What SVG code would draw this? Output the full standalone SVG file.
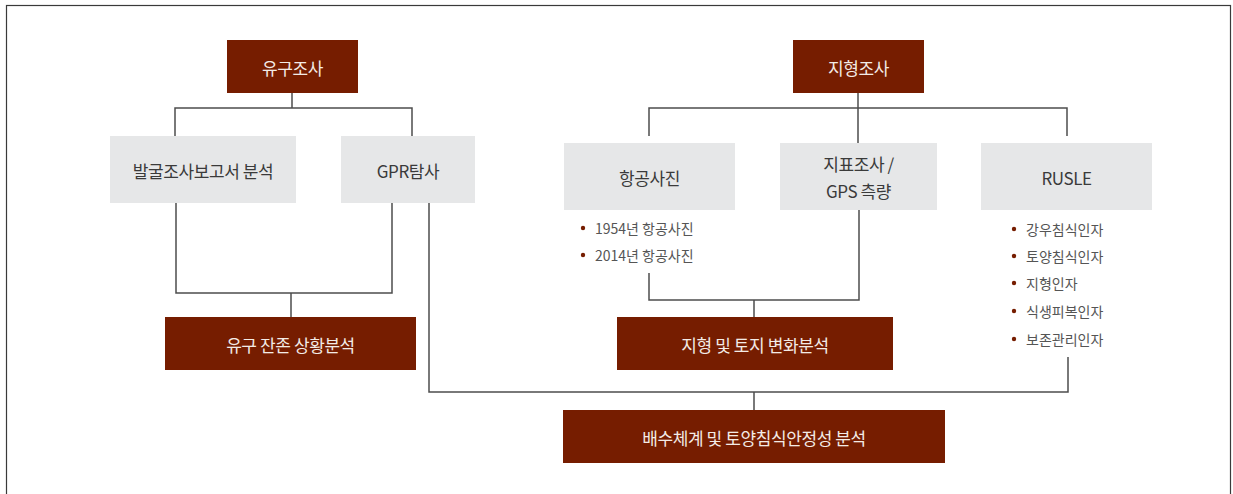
<svg xmlns="http://www.w3.org/2000/svg" width="1233" height="494" viewBox="0 0 1233 494">
<style>
.frame{fill:none;stroke:#3a3a3a;stroke-width:1.2}
.dark{fill:#761d00}
.light{fill:#e6e7e8}
.tl{font-family:"Noto Sans CJK KR","Noto Sans",sans-serif;font-size:17px;fill:#f3ebe6;text-anchor:middle;dominant-baseline:central;letter-spacing:-0.4px}
.tg{font-family:"Noto Sans CJK KR","Noto Sans",sans-serif;font-size:17px;fill:#3a3a3a;text-anchor:middle;dominant-baseline:central;letter-spacing:-0.4px}
.tb{font-family:"Noto Sans CJK KR","Noto Sans",sans-serif;font-size:14px;fill:#555;dominant-baseline:central}
.bul{fill:#761d00}
.conn path{fill:none;stroke:#4d4d4d;stroke-width:1.5}
</style>
<rect class="frame" x="6.5" y="5.5" width="1224" height="500"/>
<g class="conn">
<path d="M292 93V108M175 136V108H412V136"/>
<path d="M176 203V293H392V203M291 293V317"/>
<path d="M858 93V143M649 136V108H1067V136"/>
<path d="M649 273V300H859V210M754 300V317"/>
<path d="M429 203V392H1068V357M754 392V410"/>
</g>
<g id="n1"><rect class="dark" x="227" y="40" width="131" height="53"/><text class="tl" x="292.5" y="67">유구조사</text></g>
<g id="n2"><rect class="dark" x="793" y="40" width="131" height="53"/><text class="tl" x="858.5" y="67">지형조사</text></g>
<g id="n3"><rect class="light" x="110" y="136" width="186" height="67"/><text class="tg" x="203" y="170">발굴조사보고서 분석</text></g>
<g id="n4"><rect class="light" x="341" y="136" width="134" height="67"/><text class="tg" x="408" y="170">GPR탐사</text></g>
<g id="n5"><rect class="light" x="564" y="143" width="171" height="67"/><text class="tg" x="649.5" y="177">항공사진</text>
<circle class="bul" cx="583" cy="228" r="2.2"/><text class="tb" x="595" y="228">1954년 항공사진</text>
<circle class="bul" cx="583" cy="255" r="2.2"/><text class="tb" x="595" y="255">2014년 항공사진</text></g>
<g id="n6"><rect class="light" x="780" y="143" width="157" height="67"/><text class="tg" x="858.5" y="163">지표조사 /</text><text class="tg" x="858.5" y="190">GPS 측량</text></g>
<g id="n7"><rect class="light" x="981" y="143" width="171" height="67"/><text class="tg" x="1066.5" y="177">RUSLE</text>
<circle class="bul" cx="1014" cy="229" r="2.2"/><text class="tb" x="1026" y="229">강우침식인자</text>
<circle class="bul" cx="1014" cy="256" r="2.2"/><text class="tb" x="1026" y="256">토양침식인자</text>
<circle class="bul" cx="1014" cy="283" r="2.2"/><text class="tb" x="1026" y="283">지형인자</text>
<circle class="bul" cx="1014" cy="311" r="2.2"/><text class="tb" x="1026" y="311">식생피복인자</text>
<circle class="bul" cx="1014" cy="339" r="2.2"/><text class="tb" x="1026" y="339">보존관리인자</text></g>
<g id="n8"><rect class="dark" x="165" y="317" width="251" height="53"/><text class="tl" x="290.5" y="344">유구 잔존 상황분석</text></g>
<g id="n9"><rect class="dark" x="617" y="317" width="276" height="53"/><text class="tl" x="755" y="344">지형 및 토지 변화분석</text></g>
<g id="n10"><rect class="dark" x="563" y="410" width="382" height="53"/><text class="tl" x="754" y="437">배수체계 및 토양침식안정성 분석</text></g>
</svg>
